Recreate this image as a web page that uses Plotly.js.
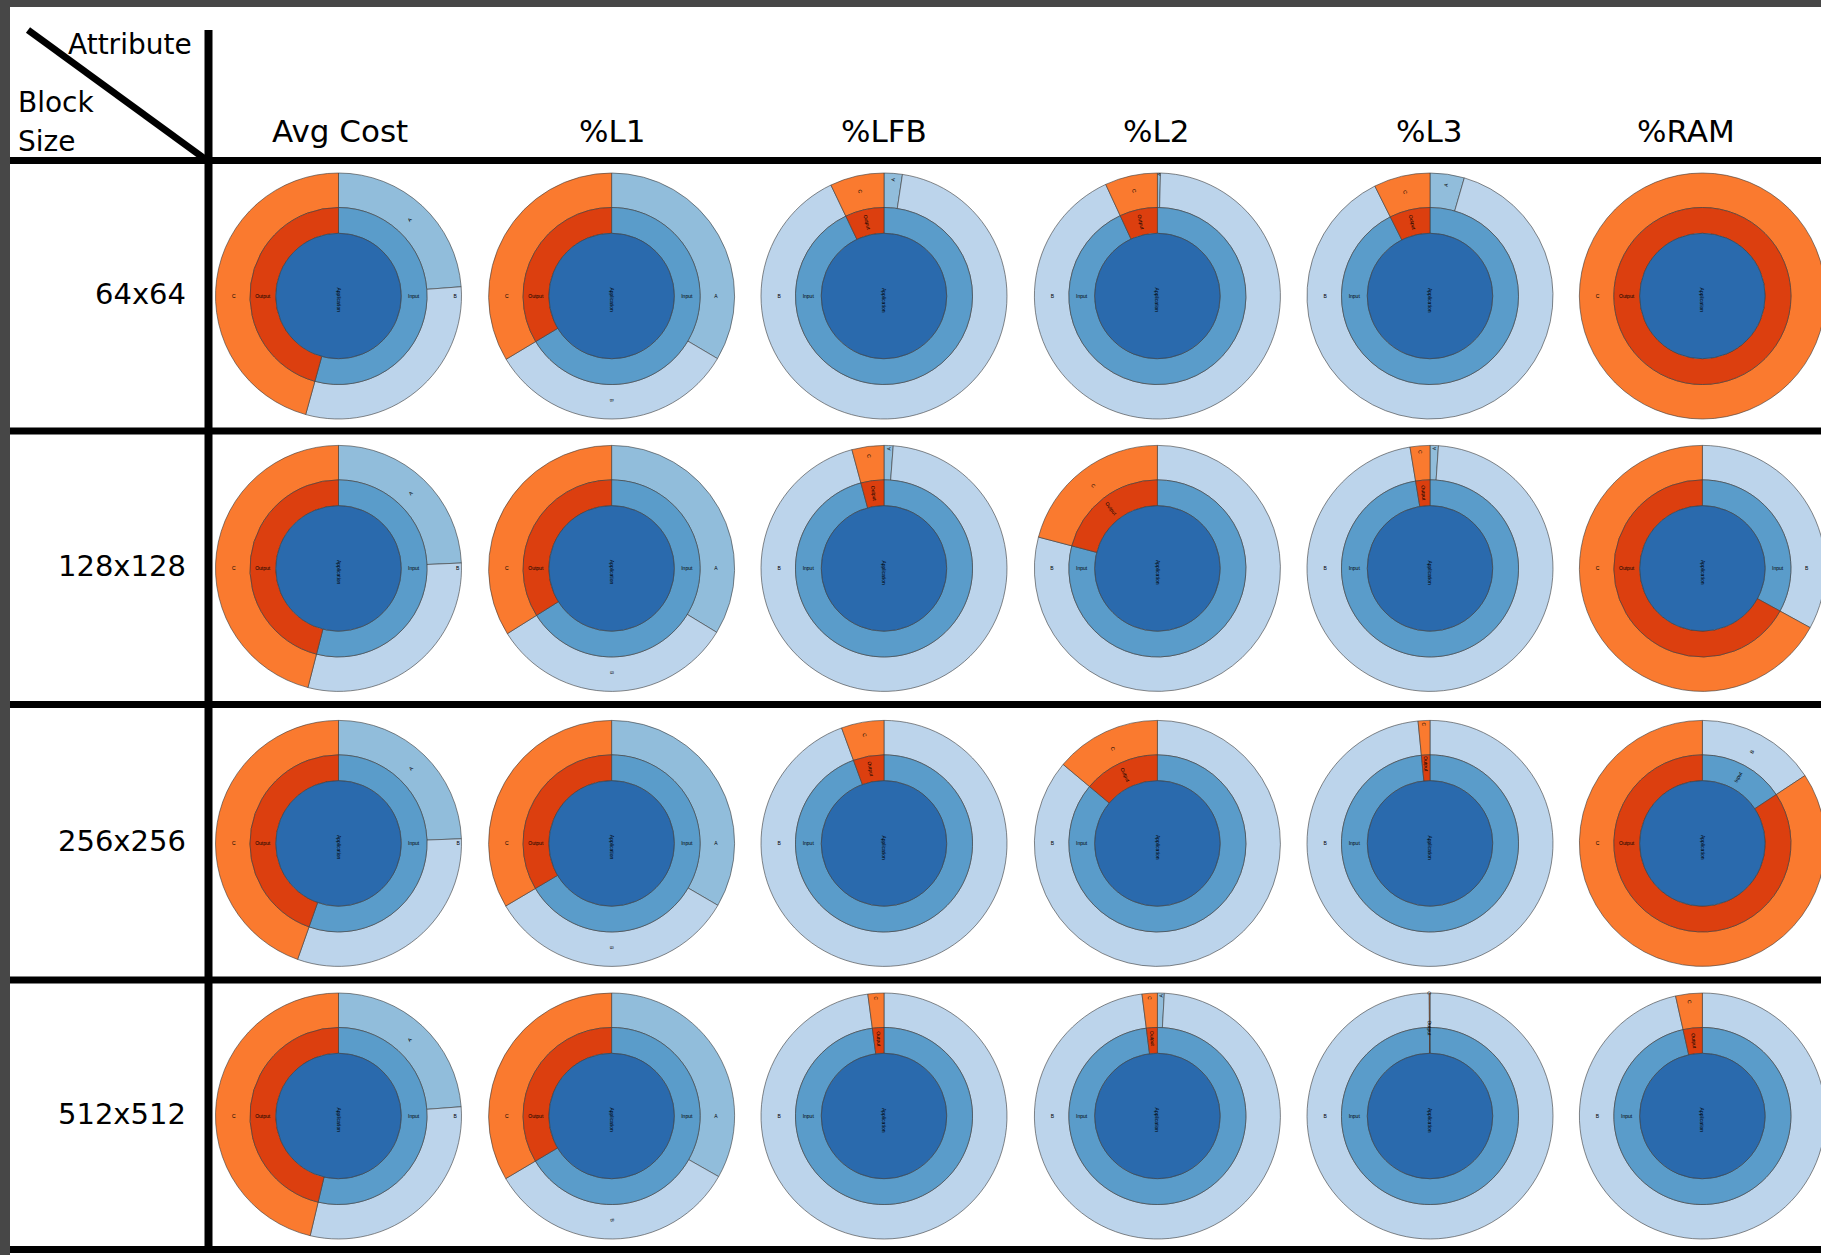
<!DOCTYPE html>
<html>
<head>
<meta charset="utf-8">
<script src="https://cdn.plot.ly/plotly-3.0.1.min.js"></script>
<style>
  html, body { margin: 0; padding: 0; background: #ffffff; overflow: hidden; }
  #grid { width: 1840px; height: 1255px; }
</style>
</head>
<body>
<div id="grid"></div>
<script>
// Block sizes (rows) and cache attributes (columns)
const blockSizes = ['64x64', '128x128', '256x256', '512x512'];
const attributes = ['Avg Cost', '%L1', '%LFB', '%L2', '%L3', '%RAM'];

// Share (%) of each leaf per block size; columns follow `attributes`
// A and B sit under Input, C sits under Output
const shareA = [
  [23.8, 33.5, 2.4, 0.4, 4.5, 0],
  [24.3, 33.7, 1.2, 0, 1.1, 0],
  [24.4, 33.4, 0, 0, 0, 0],
  [23.8, 33.2, 0, 0.9, 0, 0]
];
const shareB = [
  [30.5, 32.9, 90.5, 92.7, 88.1, 0],
  [29.7, 32.4, 94.6, 79.1, 96.3, 33.0],
  [31.0, 33.1, 94.4, 86.1, 98.45, 15.7],
  [29.9, 33.3, 97.9, 97.1, 99.9, 96.5]
];
const shareC = [
  [45.7, 33.6, 7.1, 6.9, 7.4, 100],
  [46.0, 33.9, 4.2, 20.9, 2.6, 67.0],
  [44.6, 33.5, 5.6, 13.9, 1.55, 84.3],
  [46.3, 33.5, 2.1, 2.0, 0.1, 3.5]
];

// ---- page geometry (pixels) ----
const W = 1840, H = 1255;
const colX = [338.5, 611.6, 884, 1157.4, 1430, 1702.4];
const headX = [340, 612, 884, 1156, 1429, 1686];
const rowY = [296, 568.4, 843.4, 1116];
const rIn = 62.7, rMid = 88.5, rOut = 123;

const colors = {
  root: '#2a6aad',
  input: '#5a9cca',
  output: '#dc3f0f',
  A: '#91bddb',
  B: '#bcd4eb',
  C: '#fa7a2f'
};
const edge = { color: '#3a3a3a', width: 0.6 };
const tinyFont = { family: 'Liberation Sans, Arial, sans-serif', size: 5, color: '#000000' };

const fx = x => x / W;
const fy = y => 1 - y / H;
const domainFor = (cx, cy, r) => ({ x: [fx(cx - r), fx(cx + r)], y: [fy(cy + r), fy(cy - r)] });

function ring(labels, values, cols, cx, cy, r, hole, showText) {
  const keep = values.map((v, i) => i).filter(i => values[i] > 0);
  return {
    type: 'pie',
    labels: keep.map(i => labels[i]),
    values: keep.map(i => values[i]),
    marker: { colors: keep.map(i => cols[i]), line: edge },
    hole: hole,
    domain: domainFor(cx, cy, r),
    sort: false,
    direction: 'clockwise',
    rotation: 0,
    textinfo: showText ? 'label' : 'none',
    textposition: 'inside',
    insidetextorientation: 'radial',
    textfont: tinyFont,
    hoverinfo: 'skip',
    showlegend: false
  };
}

const traces = [];
const annotations = [];
blockSizes.forEach((bs, r) => {
  attributes.forEach((attr, c) => {
    const a = shareA[r][c], b = shareB[r][c], cc = shareC[r][c];
    const cx = colX[c], cy = rowY[r];
    // outer ring: leaves, clockwise from 12 o'clock A, B, then C
    traces.push(ring(['A', 'B', 'C'], [a, b, cc], [colors.A, colors.B, colors.C], cx, cy, rOut, rMid / rOut, true));
    // middle ring: Input / Output
    traces.push(ring(['Input', 'Output'], [a + b, cc], [colors.input, colors.output], cx, cy, rMid, rIn / rMid, true));
    // centre disc: the whole application
    traces.push(ring(['Application'], [a + b + cc], [colors.root], cx, cy, rIn, 0, false));
    annotations.push({
      xref: 'paper', yref: 'paper', x: fx(cx), y: fy(cy + 4), text: 'Application',
      textangle: 90, showarrow: false, xanchor: 'center', yanchor: 'middle', font: tinyFont
    });
  });
});

// ---- table rules ----
const black = '#000000';
const hLines = [160.5, 431, 704.5, 980, 1249.5];
const shapes = [
  { type: 'rect', xref: 'paper', yref: 'paper', x0: 0, x1: 1, y0: fy(7), y1: 1, fillcolor: '#474747', line: { width: 0 } },
  { type: 'rect', xref: 'paper', yref: 'paper', x0: 0, x1: fx(10), y0: 0, y1: 1, fillcolor: '#474747', line: { width: 0 } },
  { type: 'line', xref: 'paper', yref: 'paper', x0: fx(208.5), x1: fx(208.5), y0: fy(30), y1: fy(1253), line: { color: black, width: 8 } },
  { type: 'line', xref: 'paper', yref: 'paper', x0: fx(28), x1: fx(205), y0: fy(30), y1: fy(159), line: { color: black, width: 7 } }
];
hLines.forEach(y => shapes.push({
  type: 'line', xref: 'paper', yref: 'paper', x0: fx(10), x1: 1, y0: fy(y), y1: fy(y), line: { color: black, width: 7 }
}));

// ---- headings ----
const txtFont = size => ({ family: 'DejaVu Sans, sans-serif', size: size, color: black });
attributes.forEach((attr, c) => annotations.push({
  xref: 'paper', yref: 'paper', x: fx(headX[c]), y: fy(131), text: attr,
  showarrow: false, xanchor: 'center', yanchor: 'middle', font: txtFont(31)
}));
blockSizes.forEach((bs, r) => annotations.push({
  xref: 'paper', yref: 'paper', x: fx(188), y: fy(rowY[r] - 2), text: bs,
  showarrow: false, xanchor: 'right', yanchor: 'middle', font: txtFont(29)
}));
annotations.push(
  { xref: 'paper', yref: 'paper', x: fx(66), y: fy(45), text: 'Attribute', showarrow: false, xanchor: 'left', yanchor: 'middle', font: txtFont(28) },
  { xref: 'paper', yref: 'paper', x: fx(16), y: fy(103), text: 'Block', showarrow: false, xanchor: 'left', yanchor: 'middle', font: txtFont(28) },
  { xref: 'paper', yref: 'paper', x: fx(16), y: fy(142), text: 'Size', showarrow: false, xanchor: 'left', yanchor: 'middle', font: txtFont(28) }
);

const layout = {
  width: W, height: H,
  margin: { l: 0, r: 0, t: 0, b: 0, pad: 0 },
  paper_bgcolor: '#ffffff',
  plot_bgcolor: '#ffffff',
  showlegend: false,
  uniformtext: { mode: 'show', minsize: 5 },
  shapes: shapes,
  annotations: annotations
};

Plotly.newPlot('grid', traces, layout, { displayModeBar: false, staticPlot: true });
</script>
</body>
</html>
